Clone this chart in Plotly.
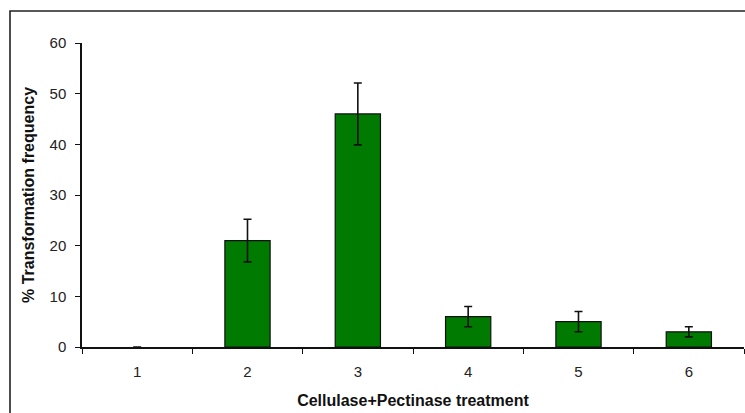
import plotly.graph_objects as go

# Treatment groups and their mean transformation frequency (%) with error
treatments = ["1", "2", "3", "4", "5", "6"]
frequency = [0, 21, 46, 6, 5, 3]
error = [float("nan"), 4.2, 6.1, 2, 2, 1]
y_ticks = [0, 10, 20, 30, 40, 50, 60]

W, H = 745, 413
ml, mr, mt, mb = 82, 1, 43, 66

# an empty (zero-height) bar gets neither fill nor outline
fill = ["#007a00" if v > 0 else "rgba(0,0,0,0)" for v in frequency]
outline_w = [1.2 if v > 0 else 0 for v in frequency]

fig = go.Figure(
    go.Bar(
        x=treatments,
        y=frequency,
        marker=dict(color=fill, line=dict(color="#111111", width=outline_w)),
        error_y=dict(type="data", array=error, visible=True,
                     color="#111111", thickness=1.6, width=4),
        showlegend=False,
    )
)

# Outer frame around the whole chart (right and bottom edges run off the page)
pw, ph = W - ml - mr, H - mt - mb
fig.add_shape(
    type="rect", xref="paper", yref="paper",
    x0=(10 - ml) / pw, x1=(W + 20 - ml) / pw,
    y0=-(H + 20 - mt - ph) / ph, y1=(H - 11 - mb) / ph,
    line=dict(color="#222222", width=1.6), fillcolor="rgba(0,0,0,0)",
    layer="below",
)

font = dict(family="Liberation Sans, Arial, sans-serif", size=15, color="#222222")

fig.update_layout(
    width=W, height=H,
    margin=dict(l=ml, r=mr, t=mt, b=mb),
    paper_bgcolor="white", plot_bgcolor="white",
    bargap=0.59,
    font=font,
    xaxis=dict(
        type="category", tickson="boundaries",
        showline=True, linecolor="#111111", linewidth=1.5,
        ticks="outside", ticklen=5, tickcolor="#111111", tickwidth=1.2,
        showgrid=False, zeroline=False,
        ticklabelstandoff=10,
        title=dict(text="<b>Cellulase+Pectinase treatment</b>",
                   font=dict(size=16, color="#111111"), standoff=16),
    ),
    yaxis=dict(
        range=[0, 60], tickvals=y_ticks,
        showline=True, linecolor="#111111", linewidth=1.5,
        ticks="outside", ticklen=5, tickcolor="#111111", tickwidth=1.2,
        showgrid=False, zeroline=False,
        ticklabelstandoff=6,
        title=dict(text="<b>% Transformation frequency</b>",
                   font=dict(size=16, color="#111111"), standoff=11),
    ),
)

fig.write_html("out.html")
